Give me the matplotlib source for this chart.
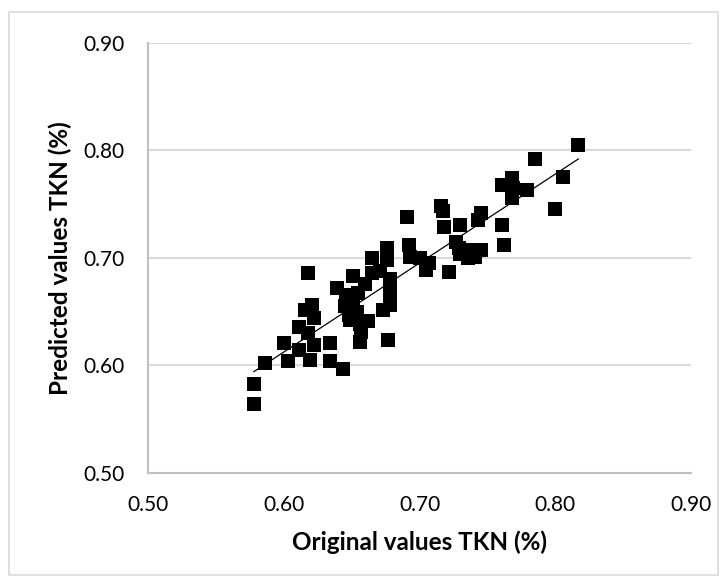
import numpy as np
import matplotlib.pyplot as plt
from matplotlib.patches import Rectangle

# original vs predicted TKN (%)
original = [0.578, 0.578, 0.586, 0.600, 0.603, 0.611, 0.618, 0.622, 0.619,
            0.634, 0.634, 0.644, 0.656, 0.677, 0.657, 0.611, 0.622, 0.616,
            0.621, 0.618, 0.639, 0.651, 0.646, 0.651, 0.655, 0.645, 0.648,
            0.654, 0.649, 0.656, 0.662, 0.665, 0.671, 0.665, 0.676, 0.678,
            0.678, 0.678, 0.673, 0.678, 0.660, 0.676, 0.692, 0.691, 0.693,
            0.700, 0.705, 0.707, 0.716, 0.717, 0.718, 0.722, 0.727, 0.730,
            0.729, 0.730, 0.735, 0.736, 0.741, 0.745, 0.745, 0.743, 0.761,
            0.762, 0.761, 0.768, 0.769, 0.779, 0.768, 0.785, 0.806, 0.800,
            0.817]
predicted = [0.583, 0.564, 0.602, 0.621, 0.604, 0.614, 0.630, 0.619, 0.605,
             0.621, 0.604, 0.597, 0.622, 0.624, 0.631, 0.636, 0.644, 0.652,
             0.656, 0.686, 0.672, 0.683, 0.666, 0.660, 0.667, 0.655, 0.647,
             0.650, 0.642, 0.639, 0.641, 0.686, 0.688, 0.700, 0.709, 0.676,
             0.669, 0.656, 0.652, 0.680, 0.676, 0.698, 0.712, 0.738, 0.701,
             0.700, 0.689, 0.695, 0.748, 0.744, 0.729, 0.687, 0.715, 0.731,
             0.709, 0.704, 0.707, 0.700, 0.701, 0.707, 0.742, 0.735, 0.731,
             0.712, 0.768, 0.774, 0.765, 0.763, 0.756, 0.792, 0.775, 0.746,
             0.805]
ticks = [0.50, 0.60, 0.70, 0.80, 0.90]

plt.rcParams["font.family"] = ["Lato", "DejaVu Sans"]

x = np.array(original)
y = np.array(predicted)

fig = plt.figure(figsize=(7.28, 5.84), dpi=100)
ax = fig.add_axes([0.2033, 0.1901, 0.7459, 0.7363])

# chart frame like excel
fig.patches.append(Rectangle((0.013, 0.016), 0.973, 0.963,
                             transform=fig.transFigure, fill=False,
                             edgecolor="#d9d9d9", linewidth=1.2))

ax.scatter(x, y, marker="s", s=10.5 ** 2, c="black", linewidths=0,
           zorder=3)

# linear trendline
k, q = np.polyfit(x, y, 1)
tx = np.array([x.min(), x.max()])
ax.plot(tx, k * tx + q, color="black", linewidth=0.9, zorder=4)

ax.set_xlim(0.5, 0.9)
ax.set_ylim(0.5, 0.9)
ax.set_xticks(ticks)
ax.set_yticks(ticks)
ax.set_xticklabels(["{:.2f}".format(t) for t in ticks])
ax.set_yticklabels(["{:.2f}".format(t) for t in ticks])
ax.tick_params(length=0, labelsize=15, colors="black")
ax.tick_params(axis="x", pad=16)
ax.tick_params(axis="y", pad=17)

ax.grid(axis="y", color="#d9d9d9", linewidth=1.5, zorder=0)
ax.set_axisbelow(True)
for side in ["top", "right"]:
    ax.spines[side].set_visible(False)
for side in ["left", "bottom"]:
    ax.spines[side].set_color("#bfbfbf")
    ax.spines[side].set_linewidth(1.5)

ax.set_xlabel("Original values TKN (%)", fontsize=17.5, fontweight="bold",
              labelpad=11)
ax.set_ylabel("Predicted values TKN (%)", fontsize=17.5, fontweight="bold",
              labelpad=8)

fig.savefig("out.png", dpi=100)
